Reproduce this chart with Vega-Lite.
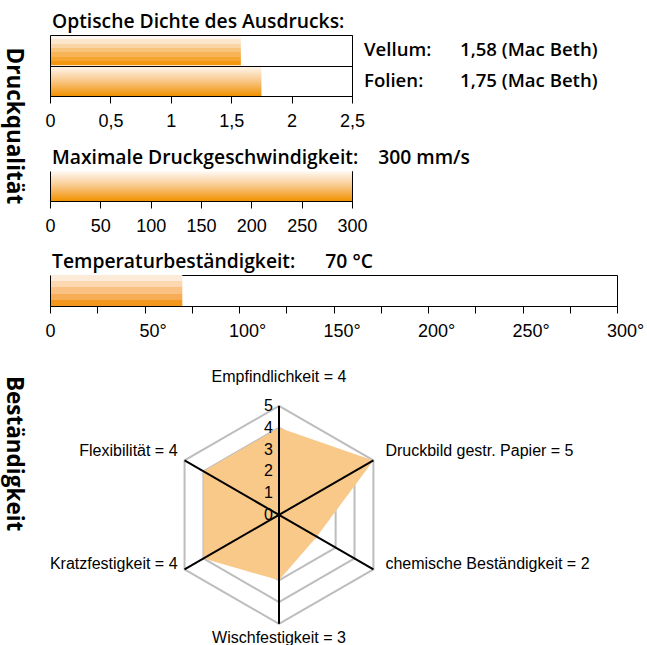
{
  "$schema": "https://vega.github.io/schema/vega-lite/v6.json",
  "padding": {"left": 2, "top": 12, "right": 0, "bottom": 0},
  "config": {
    "view": {"stroke": null},
    "axis": {
      "labelFont": "Liberation Sans",
      "labelFontSize": 18,
      "labelColor": "black",
      "tickColor": "black",
      "domainColor": "black",
      "grid": false
    },
    "text": {"color": "black"}
  },
  "datasets": {
    "density": [
      {"material": "Vellum", "value": 1.58, "note": "1,58 (Mac Beth)"},
      {"material": "Folien", "value": 1.75, "note": "1,75 (Mac Beth)"}
    ],
    "speed": [{"metric": "Maximale Druckgeschwindigkeit", "value": 300}],
    "temperature": [{"metric": "Temperaturbeständigkeit", "value": 70}],
    "radar": [
      {"k": 0, "criterion": "Empfindlichkeit", "value": 4},
      {"k": 1, "criterion": "Druckbild gestr. Papier", "value": 5},
      {"k": 2, "criterion": "chemische Beständigkeit", "value": 2},
      {"k": 3, "criterion": "Wischfestigkeit", "value": 3},
      {"k": 4, "criterion": "Kratzfestigkeit", "value": 4},
      {"k": 5, "criterion": "Flexibilität", "value": 4}
    ],
    "grid": [
      {"level": 1, "k": [0, 1, 2, 3, 4, 5]},
      {"level": 2, "k": [0, 1, 2, 3, 4, 5]},
      {"level": 3, "k": [0, 1, 2, 3, 4, 5]},
      {"level": 4, "k": [0, 1, 2, 3, 4, 5]},
      {"level": 5, "k": [0, 1, 2, 3, 4, 5]}
    ],
    "ticks": [{"tick": 0}, {"tick": 1}, {"tick": 2}, {"tick": 3}, {"tick": 4}, {"tick": 5}]
  },
  "spacing": 16,
  "vconcat": [
    {
      "title": {"text": "Druckqualität", "orient": "left", "anchor": "middle", "angle": 90, "baseline": "top", "font": "Open Sans", "fontSize": 22.5, "fontWeight": "bold", "color": "black", "offset": -3, "dx": 2},
      "spacing": 17,
      "vconcat": [
        {
          "data": {"name": "density"},
          "width": 302,
          "height": 61,
          "view": {"stroke": "black", "strokeWidth": 1},
          "title": {"text": "Optische Dichte des Ausdrucks:", "anchor": "start", "font": "Open Sans", "fontWeight": 600, "fontSize": 19.3, "color": "black", "baseline": "alphabetic", "offset": -12, "dx": 7},
          "encoding": {
            "y": {"field": "material", "type": "nominal", "title": null,
              "scale": {"domain": ["Vellum", "Folien"], "paddingInner": 0, "paddingOuter": 0},
              "axis": {"labels": false, "ticks": false, "domain": true, "grid": true, "gridColor": "black", "gridOpacity": 1, "tickBand": "extent", "zindex": 1}}
          },
          "layer": [
            {
              "transform": [{"filter": "datum.material == 'Vellum'"}],
              "mark": {"type": "bar", "color": {"gradient": "linear", "x1": 0, "y1": 0, "x2": 0, "y2": 1, "stops": [
                {"offset": 0, "color": "#fef6f0"}, {"offset": 0.143, "color": "#fef6f0"},
                {"offset": 0.143, "color": "#fce6cc"}, {"offset": 0.286, "color": "#fce6cc"},
                {"offset": 0.286, "color": "#fad6a6"}, {"offset": 0.429, "color": "#fad6a6"},
                {"offset": 0.429, "color": "#f8c47c"}, {"offset": 0.571, "color": "#f8c47c"},
                {"offset": 0.571, "color": "#f7b456"}, {"offset": 0.714, "color": "#f7b456"},
                {"offset": 0.714, "color": "#f5a530"}, {"offset": 0.857, "color": "#f5a530"},
                {"offset": 0.857, "color": "#f39610"}, {"offset": 1, "color": "#f39610"}]}},
              "encoding": {
                "x": {"field": "value", "type": "quantitative", "title": null,
                  "scale": {"domain": [0, 2.5], "nice": false},
                  "axis": {"values": [0, 0.5, 1, 1.5, 2, 2.5], "labelExpr": "replace(format(datum.value, '~g'), '.', ',')", "tickSize": 7, "labelPadding": 9, "labelFlush": false, "labelOverlap": false, "zindex": 1}}
              }
            },
            {
              "transform": [{"filter": "datum.material == 'Folien'"}],
              "mark": {"type": "bar", "color": {"gradient": "linear", "x1": 0, "y1": 0, "x2": 0, "y2": 1, "stops": [
                {"offset": 0, "color": "#fffaf6"}, {"offset": 0.5, "color": "#f9c88a"}, {"offset": 1, "color": "#f29100"}]}},
              "encoding": {"x": {"field": "value", "type": "quantitative"}}
            },
            {
              "transform": [{"calculate": "datum.material + ':'", "as": "label"}],
              "mark": {"type": "text", "align": "left", "baseline": "middle", "dx": 12, "font": "Open Sans", "fontWeight": 600, "fontSize": 18.6},
              "encoding": {"x": {"datum": 2.5}, "text": {"field": "label"}}
            },
            {
              "mark": {"type": "text", "align": "left", "baseline": "middle", "dx": 108, "font": "Open Sans", "fontWeight": 600, "fontSize": 18.6},
              "encoding": {"x": {"datum": 2.5}, "text": {"field": "note"}}
            }
          ]
        },
        {
          "data": {"name": "speed"},
          "width": 302,
          "height": 30,
          "view": {"stroke": "black", "strokeWidth": 1},
          "title": {"text": "Maximale Druckgeschwindigkeit:\u00a0\u00a0\u00a0\u00a0300 mm/s", "anchor": "start", "font": "Open Sans", "fontWeight": 600, "fontSize": 19.3, "color": "black", "baseline": "alphabetic", "offset": -12, "dx": 7},
          "mark": {"type": "bar", "color": {"gradient": "linear", "x1": 0, "y1": 0, "x2": 0, "y2": 1, "stops": [
            {"offset": 0, "color": "#fffaf6"}, {"offset": 0.5, "color": "#f9c88a"}, {"offset": 1, "color": "#f29100"}]}},
          "encoding": {
            "y": {"field": "metric", "type": "nominal", "title": null, "scale": {"paddingInner": 0, "paddingOuter": 0},
              "axis": {"labels": false, "ticks": false, "domain": true, "zindex": 1}},
            "x": {"field": "value", "type": "quantitative", "title": null,
              "scale": {"domain": [0, 300], "nice": false},
              "axis": {"values": [0, 50, 100, 150, 200, 250, 300], "tickSize": 7, "labelPadding": 9, "labelFlush": false, "labelOverlap": false, "zindex": 1}}
          }
        }
      ]
    },
    {
      "title": {"text": "Beständigkeit", "orient": "left", "anchor": "middle", "angle": 90, "baseline": "top", "font": "Open Sans", "fontSize": 22.5, "fontWeight": "bold", "color": "black", "offset": -3, "dx": 2.5},
      "spacing": 17,
      "vconcat": [
        {
          "data": {"name": "temperature"},
          "width": 567,
          "height": 31,
          "view": {"stroke": "black", "strokeWidth": 1},
          "title": {"text": "Temperaturbeständigkeit:\u00a0\u00a0\u00a0\u00a0\u00a0\u00a070 °C", "anchor": "start", "font": "Open Sans", "fontWeight": 600, "fontSize": 19.3, "color": "black", "baseline": "alphabetic", "offset": -12, "dx": 7},
          "mark": {"type": "bar", "color": {"gradient": "linear", "x1": 0, "y1": 0, "x2": 0, "y2": 1, "stops": [
            {"offset": 0, "color": "#fdebd9"}, {"offset": 0.2, "color": "#fdebd9"},
            {"offset": 0.2, "color": "#fcd7b0"}, {"offset": 0.4, "color": "#fcd7b0"},
            {"offset": 0.4, "color": "#f9c283"}, {"offset": 0.6, "color": "#f9c283"},
            {"offset": 0.6, "color": "#f6ad56"}, {"offset": 0.8, "color": "#f6ad56"},
            {"offset": 0.8, "color": "#f3981c"}, {"offset": 1, "color": "#f3981c"}]}},
          "encoding": {
            "y": {"field": "metric", "type": "nominal", "title": null, "scale": {"paddingInner": 0, "paddingOuter": 0},
              "axis": {"labels": false, "ticks": false, "domain": true, "zindex": 1}},
            "x": {"field": "value", "type": "quantitative", "title": null,
              "scale": {"domain": [0, 300], "nice": false},
              "axis": {"values": [0, 25, 50, 75, 100, 125, 150, 175, 200, 225, 250, 275, 300], "labelExpr": "datum.value == 0 ? '0' : (datum.value % 50 == 0 ? datum.value + '°' : '')", "labelOffset": {"condition": {"test": "datum.value == 0", "value": 0}, "value": 8}, "tickSize": 7, "labelPadding": 9, "labelFlush": false, "labelOverlap": false, "zindex": 1}}
          }
        },
        {
          "width": 567,
          "height": 292,
          "view": {"stroke": null},
          "encoding": {
            "x": {"type": "quantitative", "scale": {"domain": [-10.5, 15.5], "nice": false, "zero": false}, "axis": null},
            "y": {"type": "quantitative", "scale": {"domain": [-6.2, 7.2], "nice": false, "zero": false}, "axis": null}
          },
          "layer": [
            {
              "data": {"name": "grid"},
              "transform": [
                {"flatten": ["k"]},
                {"calculate": "datum.level * sin(datum.k * PI / 3)", "as": "gx"},
                {"calculate": "datum.level * cos(datum.k * PI / 3)", "as": "gy"}
              ],
              "mark": {"type": "line", "interpolate": "linear-closed", "color": "#bdbdbd", "strokeWidth": 2},
              "encoding": {
                "x": {"field": "gx", "type": "quantitative"},
                "y": {"field": "gy", "type": "quantitative"},
                "detail": {"field": "level", "type": "nominal"},
                "order": {"field": "k", "type": "quantitative"}
              }
            },
            {
              "data": {"name": "radar"},
              "transform": [
                {"calculate": "datum.value * sin(datum.k * PI / 3)", "as": "px"},
                {"calculate": "datum.value * cos(datum.k * PI / 3)", "as": "py"}
              ],
              "mark": {"type": "line", "interpolate": "linear-closed", "filled": true, "color": "#f9c98a", "strokeWidth": 0},
              "encoding": {
                "x": {"field": "px", "type": "quantitative"},
                "y": {"field": "py", "type": "quantitative"},
                "order": {"field": "k", "type": "quantitative"}
              }
            },
            {
              "data": {"name": "radar"},
              "transform": [
                {"calculate": "5 * sin(datum.k * PI / 3)", "as": "sx"},
                {"calculate": "5 * cos(datum.k * PI / 3)", "as": "sy"}
              ],
              "mark": {"type": "rule", "color": "black", "strokeWidth": 2},
              "encoding": {
                "x": {"field": "sx", "type": "quantitative"},
                "y": {"field": "sy", "type": "quantitative"},
                "x2": {"datum": 0},
                "y2": {"datum": 0}
              }
            },
            {
              "data": {"name": "ticks"},
              "mark": {"type": "text", "align": "right", "baseline": "middle", "dx": -6, "font": "Liberation Sans", "fontSize": 16},
              "encoding": {
                "x": {"datum": 0},
                "y": {"field": "tick", "type": "quantitative"},
                "text": {"field": "tick", "type": "quantitative"}
              }
            },
            {
              "data": {"name": "radar"},
              "transform": [
                {"filter": "datum.k == 0"},
                {"calculate": "datum.criterion + ' = ' + datum.value", "as": "label"},
                {"calculate": "5 * sin(datum.k * PI / 3)", "as": "sx"},
                {"calculate": "5 * cos(datum.k * PI / 3)", "as": "sy"}
              ],
              "mark": {"type": "text", "align": "center", "baseline": "middle", "dy": -29, "font": "Liberation Sans", "fontSize": 16},
              "encoding": {"x": {"field": "sx", "type": "quantitative"}, "y": {"field": "sy", "type": "quantitative"}, "text": {"field": "label"}}
            },
            {
              "data": {"name": "radar"},
              "transform": [
                {"filter": "datum.k == 3"},
                {"calculate": "datum.criterion + ' = ' + datum.value", "as": "label"},
                {"calculate": "5 * sin(datum.k * PI / 3)", "as": "sx"},
                {"calculate": "5 * cos(datum.k * PI / 3)", "as": "sy"}
              ],
              "mark": {"type": "text", "align": "center", "baseline": "middle", "dy": 14, "font": "Liberation Sans", "fontSize": 16},
              "encoding": {"x": {"field": "sx", "type": "quantitative"}, "y": {"field": "sy", "type": "quantitative"}, "text": {"field": "label"}}
            },
            {
              "data": {"name": "radar"},
              "transform": [
                {"filter": "datum.k == 1"},
                {"calculate": "datum.criterion + ' = ' + datum.value", "as": "label"},
                {"calculate": "5 * sin(datum.k * PI / 3)", "as": "sx"},
                {"calculate": "5 * cos(datum.k * PI / 3)", "as": "sy"}
              ],
              "mark": {"type": "text", "align": "left", "baseline": "middle", "dx": 12, "dy": -9, "font": "Liberation Sans", "fontSize": 16},
              "encoding": {"x": {"field": "sx", "type": "quantitative"}, "y": {"field": "sy", "type": "quantitative"}, "text": {"field": "label"}}
            },
            {
              "data": {"name": "radar"},
              "transform": [
                {"filter": "datum.k == 2"},
                {"calculate": "datum.criterion + ' = ' + datum.value", "as": "label"},
                {"calculate": "5 * sin(datum.k * PI / 3)", "as": "sx"},
                {"calculate": "5 * cos(datum.k * PI / 3)", "as": "sy"}
              ],
              "mark": {"type": "text", "align": "left", "baseline": "middle", "dx": 12, "dy": -5, "font": "Liberation Sans", "fontSize": 16},
              "encoding": {"x": {"field": "sx", "type": "quantitative"}, "y": {"field": "sy", "type": "quantitative"}, "text": {"field": "label"}}
            },
            {
              "data": {"name": "radar"},
              "transform": [
                {"filter": "datum.k == 4"},
                {"calculate": "datum.criterion + ' = ' + datum.value", "as": "label"},
                {"calculate": "5 * sin(datum.k * PI / 3)", "as": "sx"},
                {"calculate": "5 * cos(datum.k * PI / 3)", "as": "sy"}
              ],
              "mark": {"type": "text", "align": "right", "baseline": "middle", "dx": -7, "dy": -5, "font": "Liberation Sans", "fontSize": 16},
              "encoding": {"x": {"field": "sx", "type": "quantitative"}, "y": {"field": "sy", "type": "quantitative"}, "text": {"field": "label"}}
            },
            {
              "data": {"name": "radar"},
              "transform": [
                {"filter": "datum.k == 5"},
                {"calculate": "datum.criterion + ' = ' + datum.value", "as": "label"},
                {"calculate": "5 * sin(datum.k * PI / 3)", "as": "sx"},
                {"calculate": "5 * cos(datum.k * PI / 3)", "as": "sy"}
              ],
              "mark": {"type": "text", "align": "right", "baseline": "middle", "dx": -7, "dy": -9, "font": "Liberation Sans", "fontSize": 16},
              "encoding": {"x": {"field": "sx", "type": "quantitative"}, "y": {"field": "sy", "type": "quantitative"}, "text": {"field": "label"}}
            }
          ]
        }
      ]
    }
  ]
}
